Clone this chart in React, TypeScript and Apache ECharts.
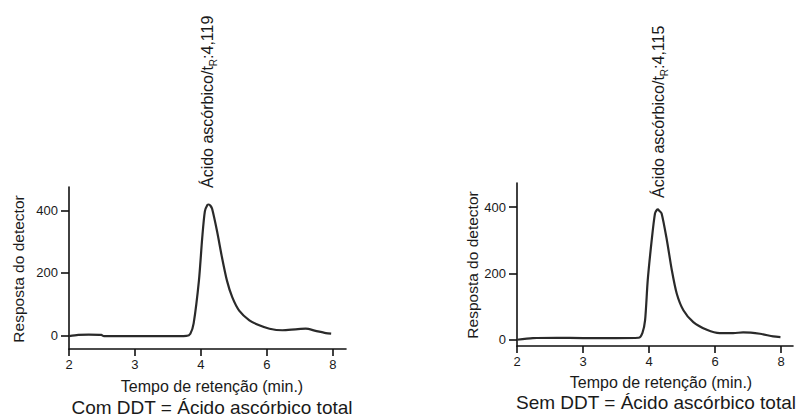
import React, { useEffect, useRef } from "react";
import * as echarts from "echarts";

// Retention time (min) and detector response
const LEFT_TIME = [2.0, 2.14, 2.3, 2.49, 2.53, 3.0, 3.5, 3.78, 3.84, 3.89, 3.97, 4.04, 4.12, 4.2, 4.24, 4.29, 4.34, 4.49, 4.64, 4.79, 4.95, 5.16, 5.47, 5.77, 6.08, 6.47, 6.87, 7.18, 7.48, 7.79, 7.95];
const LEFT_RESP = [-3, 1, 2, 1, -3, -3, -3, -2, 5, 38, 175, 312, 397, 418, 419, 415, 405, 333, 249, 175, 122, 79, 48, 32, 21, 16, 19, 21, 14, 7, 5];

const RIGHT_TIME = [2.0, 2.24, 2.6, 3.0, 3.5, 3.84, 3.9, 3.94, 3.98, 4.08, 4.18, 4.24, 4.27, 4.3, 4.38, 4.54, 4.69, 4.84, 5.04, 5.34, 5.75, 6.14, 6.55, 6.85, 7.36, 7.76, 7.98];
const RIGHT_RESP = [-1, 4, 5, 4, 4, 5, 20, 58, 179, 300, 381, 392, 393, 390, 381, 300, 209, 138, 88, 52, 29, 19, 19, 21, 17, 9, 7];

const X_TICKS = [2, 3, 4, 6, 8];
const Y_TICKS = [0, 200, 400];

const LEFT_PEAK = "4,119";
const RIGHT_PEAK = "4,115";
const X_NAME = "Tempo de retenção (min.)";
const Y_NAME = "Resposta do detector";
const LEFT_CAPTION = "Com DDT = Ácido ascórbico total";
const RIGHT_CAPTION = "Sem DDT = Ácido ascórbico total";

// piecewise time scale of the original figure: 2,3,4 then 6,8 evenly spaced
const toAxis = (t: number) => (t <= 4 ? t - 2 : 2 + (t - 4) / 2);

const FONT = "Liberation Sans, Arial, sans-serif";
const TXT = "#1a1a1a";

export default function App() {
  const ref = useRef<HTMLDivElement>(null);
  useEffect(() => {
    if (!ref.current) return;
    const chart = echarts.init(ref.current, undefined, { renderer: "svg" });
    const tickPos = X_TICKS.map(toAxis);
    const xAxisCommon = (gridIndex: number, max: number) => ({
      type: "value" as const,
      gridIndex,
      min: 0,
      max,
      splitLine: { show: false },
      axisLine: { onZero: false, lineStyle: { color: "#111", width: 1.6 } },
      axisTick: { customValues: tickPos, length: 7, lineStyle: { color: "#111", width: 1.6 } },
      axisLabel: {
        customValues: tickPos,
        formatter: (v: number) => {
          const i = tickPos.findIndex((p) => Math.abs(p - v) < 1e-6);
          return i >= 0 ? String(X_TICKS[i]) : "";
        },
        color: TXT,
        fontSize: 13,
        fontFamily: FONT,
        margin: 9,
      },
    });
    const yAxisCommon = (gridIndex: number, min: number, max: number) => ({
      type: "value" as const,
      gridIndex,
      min,
      max,
      splitLine: { show: false },
      axisLine: { show: true, onZero: false, lineStyle: { color: "#111", width: 1.6 } },
      axisTick: { show: true, customValues: Y_TICKS, length: 8, lineStyle: { color: "#111", width: 1.6 } },
      axisLabel: { customValues: Y_TICKS, color: TXT, fontSize: 13, fontFamily: FONT, margin: 11 },
    });
    const peakLabel = (x: number, y: number, val: string) => ({
      type: "text" as const,
      x,
      y,
      rotation: Math.PI / 2,
      style: {
        text: "{m|Ácido ascórbico/t}{s|R}{m|:" + val + "}",
        align: "left",
        verticalAlign: "middle",
        rich: {
          m: { fontSize: 16, fontFamily: FONT, fill: TXT, lineHeight: 22, verticalAlign: "middle" },
          s: { fontSize: 10, fontFamily: FONT, fill: TXT, lineHeight: 10, verticalAlign: "bottom" },
        },
      },
    });
    const plain = (x: number, y: number, text: string, size: number, rot = 0) => ({
      type: "text" as const,
      x,
      y,
      rotation: rot,
      style: {
        text,
        fontSize: size,
        fontFamily: FONT,
        fill: TXT,
        align: "center",
        verticalAlign: "middle",
      },
    });
    chart.setOption({
      animation: false,
      backgroundColor: "#fff",
      grid: [
        { left: 69, top: 187, width: 277, height: 162 },
        { left: 517, top: 183, width: 276, height: 163 },
      ],
      xAxis: [xAxisCommon(0, 4.2), xAxisCommon(1, 4.18)],
      yAxis: [yAxisCommon(0, -44, 475), yAxisCommon(1, -20, 473)],
      series: [
        {
          type: "line",
          xAxisIndex: 0,
          yAxisIndex: 0,
          data: LEFT_TIME.map((t, i) => [toAxis(t), LEFT_RESP[i]]),
          smooth: 0.25,
          showSymbol: false,
          lineStyle: { color: "#2a2a2a", width: 2.2 },
        },
        {
          type: "line",
          xAxisIndex: 1,
          yAxisIndex: 1,
          data: RIGHT_TIME.map((t, i) => [toAxis(t), RIGHT_RESP[i]]),
          smooth: 0.25,
          showSymbol: false,
          lineStyle: { color: "#2a2a2a", width: 2.2 },
        },
      ],
      graphic: [
        peakLabel(207, 188, LEFT_PEAK),
        peakLabel(658, 198, RIGHT_PEAK),
        plain(18, 269, Y_NAME, 15.5, Math.PI / 2),
        plain(472, 265, Y_NAME, 15.5, Math.PI / 2),
        plain(212, 386, X_NAME, 16),
        plain(661, 382, X_NAME, 16),
        plain(212, 407, LEFT_CAPTION, 19),
        plain(656, 402, RIGHT_CAPTION, 19),
      ],
    });
    return () => chart.dispose();
  }, []);
  return (
    <div
      ref={ref}
      style={{ position: "fixed", left: 0, top: 0, width: 801, height: 416, background: "#fff" }}
    />
  );
}
